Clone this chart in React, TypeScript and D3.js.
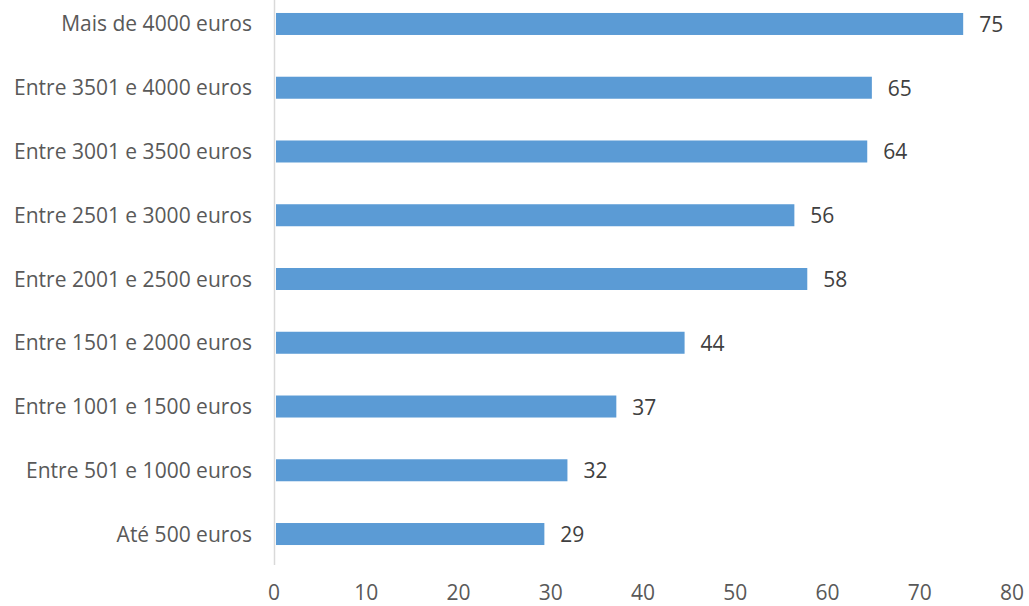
import React from "react";
import * as d3 from "d3";

const categories = [
  "Mais de 4000 euros",
  "Entre 3501 e 4000 euros",
  "Entre 3001 e 3500 euros",
  "Entre 2501 e 3000 euros",
  "Entre 2001 e 2500 euros",
  "Entre 1501 e 2000 euros",
  "Entre 1001 e 1500 euros",
  "Entre 501 e 1000 euros",
  "Até 500 euros",
];
const values = [74.6, 64.7, 64.2, 56.3, 57.7, 44.4, 37.0, 31.7, 29.2];
const xTicks = [0, 10, 20, 30, 40, 50, 60, 70, 80];

const W = 1029;
const H = 606;
const FONT = "'Open Sans', sans-serif";

export default function App() {
  const x = d3.scaleLinear().domain([0, 80]).range([275, 1013]);
  const y = d3.scaleBand<string>().domain(categories).range([-7.9, 565.9]).padding(0);
  const barH = 22;
  const fmt = d3.format(".0f");
  return (
    <svg width={W} height={H} style={{ position: "absolute", left: 0, top: 0 }}>
      <rect width={W} height={H} fill="#fff" />
      {categories.map((c, i) => {
        const cy = (y(c) as number) + y.bandwidth() / 2;
        return (
          <g key={c}>
            <rect x={x(0) + 1} y={cy - barH / 2} width={x(values[i]) - x(0) - 1} height={barH} fill="#5B9BD5" />
            <text x={252} y={cy + 7.5} textAnchor="end" fontFamily={FONT} fontSize={21} fill="#595959">
              {c}
            </text>
            <text x={x(values[i]) + 16} y={cy + 8} textAnchor="start" fontFamily={FONT} fontSize={21} fill="#404040">
              {fmt(values[i])}
            </text>
          </g>
        );
      })}
      <line x1={274.5} x2={274.5} y1={0} y2={565} stroke="#D9D9D9" strokeWidth={1.5} />
      {xTicks.map((t) => (
        <text key={t} x={x(t) - 1} y={600} textAnchor="middle" fontFamily={FONT} fontSize={21} fill="#595959">
          {t}
        </text>
      ))}
    </svg>
  );
}
